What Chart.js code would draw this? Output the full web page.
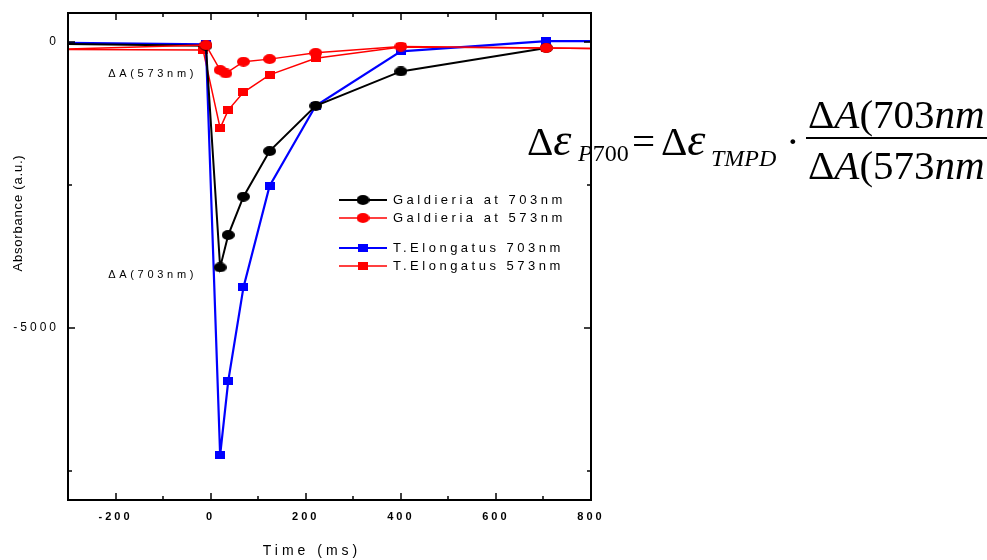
<!DOCTYPE html>
<html>
<head>
<meta charset="utf-8">
<script src="https://cdn.jsdelivr.net/npm/chart.js@4.4.0/dist/chart.umd.min.js"></script>
<style>
  html, body { margin: 0; padding: 0; background: #fff; }
  #wrap { position: relative; width: 987px; height: 560px; }
</style>
</head>
<body>
<div id="wrap"><canvas id="chartAbs" width="987" height="560"></canvas></div>
<script>
// series names (legend order)
const SERIES_NAMES = ["Galdieria at 703nm", "Galdieria at 573nm", "T.Elongatus 703nm", "T.Elongatus 573nm"];

// Galdieria at 703nm (black circles)
const GALD_703_X = [-320, -10, 20, 37, 69, 124, 221, 400, 706];
const GALD_703_Y = [-40, -70, -3940, -3375, -2705, -1910, -1120, -520, -110];

// Galdieria at 573nm (red circles)
const GALD_573_X = [-320, -10, 20, 32, 69, 124, 221, 400, 706, 830];
const GALD_573_Y = [-135, -60, -495, -555, -350, -305, -195, -85, -110, -125];

// T.Elongatus 703nm (blue squares)
const TE_703_X = [-320, -10, 20, 37, 69, 124, 221, 400, 706, 830];
const TE_703_Y = [-20, -45, -7215, -5925, -4290, -2520, -1120, -170, 10, 10];

// T.Elongatus 573nm (red squares)
const TE_573_X = [-320, -16, 20, 37, 69, 124, 221, 400, 706, 830];
const TE_573_Y = [-135, -145, -1510, -1195, -885, -580, -290, -95, -110, -125];

// axis ticks
const X_TICKS = [-200, 0, 200, 400, 600, 800];
const X_MINOR = [-300, -100, 100, 300, 500, 700];
const Y_TICKS = [0, -5000];
const Y_MINOR = [-2500, -7500];

const SANS = '"Liberation Sans", Arial, sans-serif';
const SERIF = '"Liberation Serif", "Times New Roman", serif';

function $(id){ return document.getElementById(id); }

function toPts(xs, ys){ return xs.map((x, i) => ({ x, y: ys[i] })); }

// markers in the original are slightly squashed, so use small canvases
function makeMarker(shape, color, w, h){
  const c = document.createElement("canvas");
  c.width = w; c.height = h;
  const g = c.getContext("2d");
  g.fillStyle = color;
  if (shape === "circle"){
    g.beginPath();
    g.ellipse(w / 2, h / 2, w / 2, h / 2, 0, 0, Math.PI * 2);
    g.fill();
  } else {
    g.fillRect(0, 0, w, h);
  }
  return c;
}

const MK = {
  blackDot: makeMarker("circle", "#000000", 13, 10),
  redDot: makeMarker("circle", "#ff0000", 13, 10),
  blueSq: makeMarker("rect", "#0000ff", 10, 8),
  redSq: makeMarker("rect", "#ff0000", 10, 8)
};

function put(ctx, txt, font, x, y){
  ctx.font = font;
  ctx.fillText(txt, x, y);
  return x + ctx.measureText(txt).width;
}

function drawEquation(ctx){
  ctx.save();
  ctx.letterSpacing = "0px";
  ctx.fillStyle = "#000";
  ctx.textBaseline = "alphabetic";
  ctx.textAlign = "left";
  const big = "41px " + SERIF, bigI = "italic 41px " + SERIF, eps = "italic 46px " + SERIF;
  const sub = "24px " + SERIF, subI = "italic 24px " + SERIF;

  // left-hand side
  let x = put(ctx, "Δ", big, 527, 155);
  put(ctx, "ε", eps, x, 155);
  x = put(ctx, "P", subI, 578, 161);
  put(ctx, "700", sub, x, 161);
  put(ctx, "=", big, 632, 155);
  x = put(ctx, "Δ", big, 661, 155);
  put(ctx, "ε", eps, x, 155);
  put(ctx, "TMPD", subI, 711, 166);
  put(ctx, "·", big, 786, 155);

  // fraction
  let n = put(ctx, "Δ", big, 808, 128);
  n = put(ctx, "A", bigI, n, 128);
  n = put(ctx, "(703", big, n, 128);
  put(ctx, "nm", bigI, n, 128);

  let d = put(ctx, "Δ", big, 808, 179);
  d = put(ctx, "A", bigI, d, 179);
  d = put(ctx, "(573", big, d, 179);
  put(ctx, "nm", bigI, d, 179);

  ctx.fillRect(806, 137, 181, 2);
  ctx.restore();
}

const decor = {
  id: "decor",
  beforeDraw(chart){
    drawEquation(chart.ctx);
    chart.ctx.letterSpacing = "3px";
  },
  afterDraw(chart){
    const { ctx, chartArea: a, scales: { x, y } } = chart;
    ctx.save();
    ctx.letterSpacing = "0px";
    ctx.strokeStyle = "#000";

    // frame
    ctx.lineWidth = 2;
    ctx.strokeRect(a.left, a.top, a.right - a.left, a.bottom - a.top);

    // inward ticks on all four sides
    ctx.lineWidth = 1.5;
    const seg = (x1, y1, x2, y2) => { ctx.beginPath(); ctx.moveTo(x1, y1); ctx.lineTo(x2, y2); ctx.stroke(); };
    const xt = (vals, len) => vals.forEach(v => {
      const p = Math.round(x.getPixelForValue(v));
      seg(p, a.bottom, p, a.bottom - len);
      seg(p, a.top, p, a.top + len);
    });
    const yt = (vals, len) => vals.forEach(v => {
      const p = Math.round(y.getPixelForValue(v));
      seg(a.left, p, a.left + len, p);
      seg(a.right, p, a.right - len, p);
    });
    xt(X_TICKS, 7); xt(X_MINOR, 4);
    yt(Y_TICKS, 7); yt(Y_MINOR, 4);

    ctx.fillStyle = "#000";

    // x axis title (sits left of the plot centre in the original)
    ctx.font = "14px " + SANS;
    ctx.letterSpacing = "4px";
    ctx.textAlign = "center";
    ctx.textBaseline = "middle";
    ctx.fillText("Time (ms)", 312, 551);

    // y axis title
    ctx.save();
    ctx.translate(18, 213);
    ctx.rotate(-Math.PI / 2);
    ctx.font = "13px " + SANS;
    ctx.letterSpacing = "0.8px";
    ctx.textAlign = "center";
    ctx.textBaseline = "middle";
    ctx.fillText("Absorbance (a.u.)", 0, 0);
    ctx.restore();

    // annotations
    ctx.font = "11px " + SANS;
    ctx.letterSpacing = "3.7px";
    ctx.textAlign = "center";
    ctx.textBaseline = "middle";
    ctx.fillText("ΔA(573nm)", x.getPixelForValue(-122), y.getPixelForValue(-570));
    ctx.fillText("ΔA(703nm)", x.getPixelForValue(-122), y.getPixelForValue(-4080));

    // legend
    const rows = [200, 218, 248, 266];
    chart.data.datasets.forEach((ds, i) => {
      const ry = rows[i];
      ctx.strokeStyle = ds.borderColor;
      ctx.lineWidth = ds.borderWidth;
      seg(339, ry, 387, ry);
      ctx.drawImage(ds.pointStyle, 363 - ds.pointStyle.width / 2, ry - ds.pointStyle.height / 2);
      ctx.fillStyle = "#000";
      ctx.font = "13px " + SANS;
      ctx.letterSpacing = "3.5px";
      ctx.textAlign = "left";
      ctx.fillText(ds.label, 393, ry);
    });
    ctx.restore();
  }
};

function lineSet(label, xs, ys, color, width, marker, order){
  return {
    label,
    data: toPts(xs, ys),
    borderColor: color,
    backgroundColor: color,
    borderWidth: width,
    pointStyle: marker,
    pointRadius: 5,
    pointHoverRadius: 5,
    tension: 0,
    order
  };
}

new Chart($("chartAbs"), {
  type: "line",
  data: {
    datasets: [
      lineSet(SERIES_NAMES[0], GALD_703_X, GALD_703_Y, "#000000", 2, MK.blackDot, 1),
      lineSet(SERIES_NAMES[1], GALD_573_X, GALD_573_Y, "#ff0000", 1.5, MK.redDot, 0),
      lineSet(SERIES_NAMES[2], TE_703_X, TE_703_Y, "#0000ff", 2.2, MK.blueSq, 2),
      lineSet(SERIES_NAMES[3], TE_573_X, TE_573_Y, "#ff0000", 1.5, MK.redSq, 3)
    ]
  },
  options: {
    responsive: false,
    animation: false,
    layout: { padding: { top: 13, right: 396, left: 0, bottom: 0 } },
    plugins: { legend: { display: false }, tooltip: { enabled: false } },
    scales: {
      x: {
        type: "linear",
        min: -300, max: 800,
        afterBuildTicks: s => { s.ticks = X_TICKS.map(v => ({ value: v })); },
        afterFit: s => { s.height = 60; s.paddingLeft = 0; s.paddingRight = 0; },
        grid: { display: false, drawTicks: false },
        border: { display: false },
        ticks: { color: "#000", padding: 10, maxRotation: 0, autoSkip: false,
                 callback: v => String(v),
                 font: { family: SANS, size: 11, weight: "bold" } },
        title: { display: false }
      },
      y: {
        type: "linear",
        min: -8000, max: 500,
        afterBuildTicks: s => { s.ticks = Y_TICKS.map(v => ({ value: v })); },
        afterFit: s => { s.width = 68; s.paddingTop = 0; s.paddingBottom = 0; },
        grid: { display: false, drawTicks: false },
        border: { display: false },
        ticks: { color: "#000", padding: 9, callback: v => String(v),
                 font: { family: SANS, size: 12 } }
      }
    }
  },
  plugins: [decor]
});
</script>
</body>
</html>
